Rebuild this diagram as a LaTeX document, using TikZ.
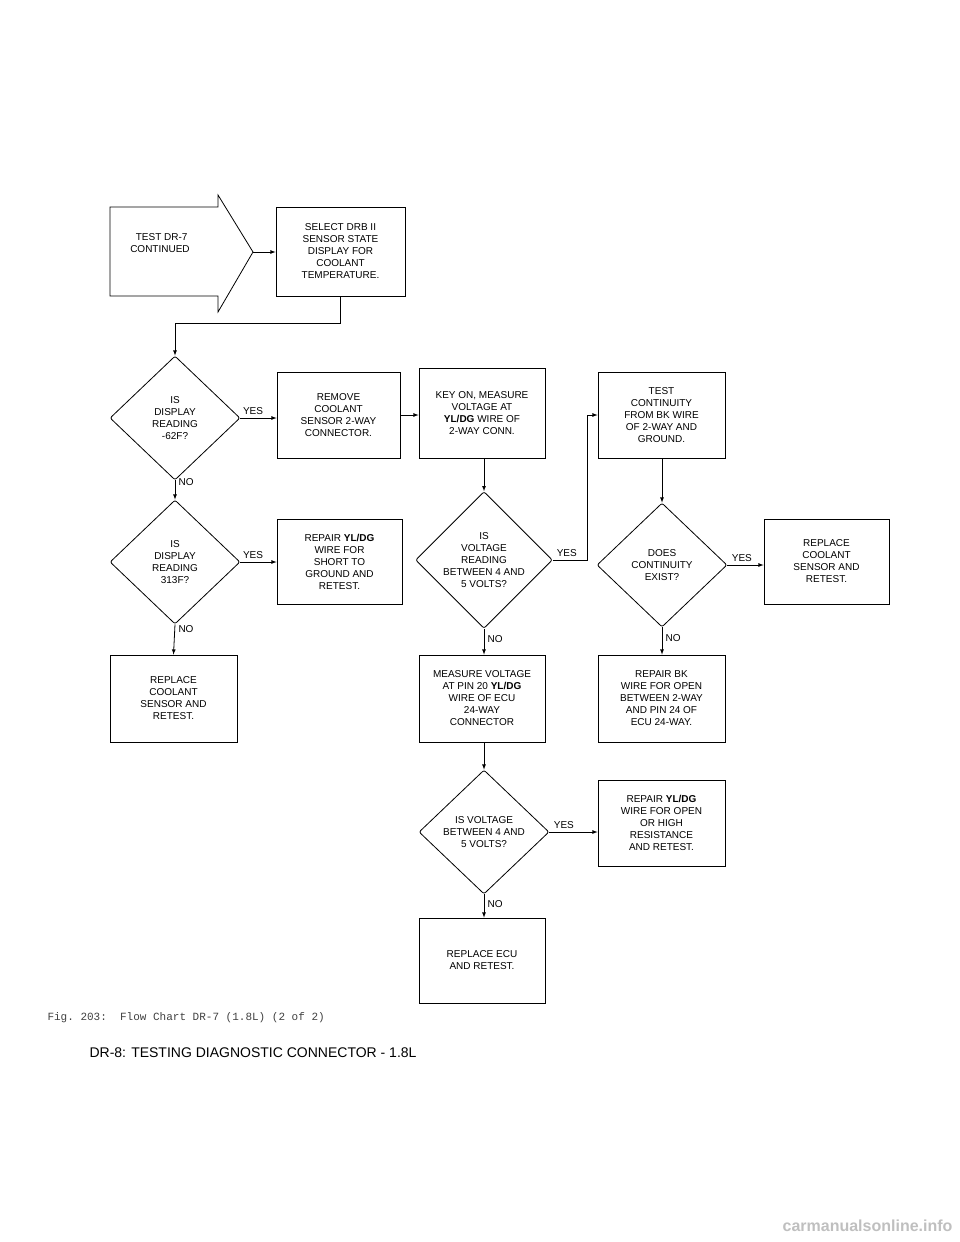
\documentclass[tikz,border=0pt]{standalone}
\usepackage{fontspec}
\setsansfont{Liberation Sans}
\setmonofont{Liberation Mono}
\usetikzlibrary{shapes.geometric}
\tikzset{
  stepbox/.style={draw, thick, rectangle, inner sep=0pt, font=\sffamily\fontsize{10}{12}\selectfont, align=center},
  decide/.style={draw, thick, diamond, inner sep=0pt, minimum width=130pt, minimum height=124pt, rounded corners=2pt, font=\sffamily\fontsize{10}{12}\selectfont, align=center},
  flow/.style={thick, -latex},
  lbl/.style={font=\sffamily\fontsize{10}{12}\selectfont}
}
\begin{document}
\begin{tikzpicture}[x=1pt, y=-1pt]
  \useasboundingbox (0,0) rectangle (960,1242);
  % start arrow
  \draw[thick] (110,207) -- (218,207) -- (218,195) -- (253,252) -- (218,312) -- (218,296) -- (110,296) -- cycle;
  \node[lbl, align=left] (start) at (160,243) {\ \ TEST DR-7\\CONTINUED};
  \coordinate (tip) at (253,252);
  % boxes
  \node[stepbox, minimum width=129pt, minimum height=89pt] (select) at (340.5,251.5) {SELECT DRB II\\SENSOR STATE\\DISPLAY FOR\\COOLANT\\TEMPERATURE.};
  \node[stepbox, minimum width=123pt, minimum height=86pt] (remove) at (338.5,415) {REMOVE\\COOLANT\\SENSOR 2-WAY\\CONNECTOR.};
  \node[stepbox, minimum width=126pt, minimum height=90pt] (keyon) at (482,413) {KEY ON, MEASURE\\VOLTAGE AT\\\textbf{YL/DG} WIRE OF\\2-WAY CONN.};
  \node[stepbox, minimum width=127pt, minimum height=86pt] (testcont) at (661.5,415) {TEST\\CONTINUITY\\FROM BK WIRE\\OF 2-WAY AND\\GROUND.};
  \node[stepbox, minimum width=125pt, minimum height=85pt] (repshort) at (339.5,561.5) {REPAIR \textbf{YL/DG}\\WIRE FOR\\SHORT TO\\GROUND AND\\RETEST.};
  \node[stepbox, minimum width=125pt, minimum height=85pt] (repsensr) at (826.5,561.5) {REPLACE\\COOLANT\\SENSOR AND\\RETEST.};
  \node[stepbox, minimum width=127pt, minimum height=87pt] (repsensl) at (173.5,698.5) {REPLACE\\COOLANT\\SENSOR AND\\RETEST.};
  \node[stepbox, minimum width=126pt, minimum height=87pt] (measure) at (482,698.5) {MEASURE VOLTAGE\\AT PIN 20 \textbf{YL/DG}\\WIRE OF ECU\\24-WAY\\CONNECTOR};
  \node[stepbox, minimum width=127pt, minimum height=87pt] (repbk) at (661.5,698.5) {REPAIR BK\\WIRE FOR OPEN\\BETWEEN 2-WAY\\AND PIN 24 OF\\ECU 24-WAY.};
  \node[stepbox, minimum width=127pt, minimum height=86pt] (repopen) at (661.5,823) {REPAIR \textbf{YL/DG}\\WIRE FOR OPEN\\OR HIGH\\RESISTANCE\\AND RETEST.};
  \node[stepbox, minimum width=126pt, minimum height=85pt] (repecu) at (482,960.5) {REPLACE ECU\\AND RETEST.};
  % decisions
  \node[decide] (disp62) at (175,418) {IS\\DISPLAY\\READING\\-62F?};
  \node[decide] (disp313) at (175,562) {IS\\DISPLAY\\READING\\313F?};
  \node[decide] (volt1) at (484,560) {IS\\VOLTAGE\\READING\\BETWEEN 4 AND\\5 VOLTS?};
  \node[decide] (cont) at (662,565) {DOES\\CONTINUITY\\EXIST?};
  \node[decide] (volt2) at (484,832) {IS VOLTAGE\\BETWEEN 4 AND\\5 VOLTS?};
  % connectors
  \draw[flow] (tip) -- (select.west |- tip);
  \draw[flow] (select.south) -- ++(0,27) -| (disp62.north);
  \draw[flow] (disp62.east) -- (remove.west |- disp62.east) node[lbl, pos=0.35, above] {YES};
  \draw[flow] (remove.east) -- (keyon.west |- remove.east);
  \draw[flow] (disp62.south) -- (disp313.north) node[lbl, pos=0.1, right] {NO};
  \draw[flow] (disp313.east) -- (repshort.west |- disp313.east) node[lbl, pos=0.35, above] {YES};
  \draw[flow] (disp313.south) -- (repsensl.north) node[lbl, pos=0.15, right] {NO};
  \draw[flow] (keyon.south -| volt1.north) -- (volt1.north);
  \draw[flow] (volt1.east) -- ++(35,0) coordinate (up) node[lbl, pos=0.4, above] {YES} |- (testcont.west);
  \draw[flow] (volt1.south) -- (measure.north -| volt1.south) node[lbl, pos=0.4, right] {NO};
  \draw[flow] (testcont.south -| cont.north) -- (cont.north);
  \draw[flow] (cont.east) -- (repsensr.west |- cont.east) node[lbl, pos=0.4, above] {YES};
  \draw[flow] (cont.south) -- (repbk.north -| cont.south) node[lbl, pos=0.4, right] {NO};
  \draw[flow] (measure.south -| volt2.north) -- (volt2.north);
  \draw[flow] (volt2.east) -- (repopen.west |- volt2.east) node[lbl, pos=0.3, above] {YES};
  \draw[flow] (volt2.south) -- (repecu.north -| volt2.south) node[lbl, pos=0.4, right] {NO};
  % captions
  \node[anchor=west, font=\ttfamily\fontsize{11}{13}\selectfont, text=black!75] (fig) at (44,1018) {Fig. 203:\ \ Flow Chart DR-7 (1.8L) (2 of 2)};
  \node[anchor=west, font=\sffamily\fontsize{14}{16}\selectfont] (title) at (86,1053) {DR-8: TESTING DIAGNOSTIC CONNECTOR - 1.8L};
  \node[anchor=east, font=\sffamily\bfseries\fontsize{16}{18}\selectfont, text=black!25] (mark) at (956,1226) {carmanualsonline.info};
\end{tikzpicture}
\end{document}
